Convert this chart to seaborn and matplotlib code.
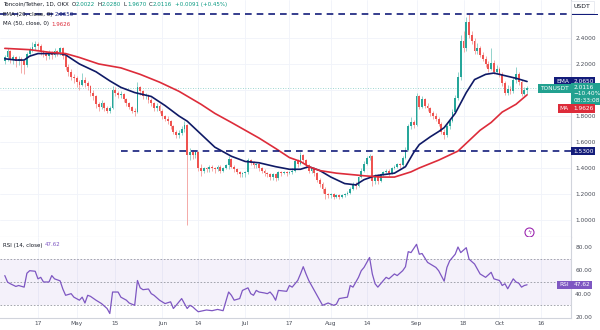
import numpy as np
import pandas as pd
import matplotlib
matplotlib.use("Agg")
import matplotlib.pyplot as plt
import seaborn as sns
from matplotlib.transforms import blended_transform_factory
from matplotlib.patches import Rectangle

# ---------------- data ----------------
start_date = "2023-04-05"
closes = [
    2.25, 2.30, 2.24, 2.25, 2.22, 2.24, 2.22, 2.19, 2.28, 2.31,
    2.33, 2.35, 2.34, 2.29, 2.28, 2.26, 2.29, 2.27, 2.30, 2.29,
    2.32, 2.26, 2.18, 2.14, 2.10, 2.09, 2.06, 2.04, 2.08, 2.05,
    2.03, 1.98, 1.95, 1.89, 1.87, 1.90, 1.86, 1.84, 1.86, 2.00,
    1.98, 1.96, 1.97, 1.93, 1.90, 1.87, 1.84, 1.83, 2.02, 1.99,
    1.95, 1.96, 1.92, 1.90, 1.86, 1.88, 1.84, 1.80, 1.78, 1.76,
    1.72, 1.68, 1.65, 1.67, 1.70, 1.73, 1.50, 1.52, 1.50, 1.52,
    1.40, 1.38, 1.40, 1.39, 1.41, 1.40, 1.39, 1.41, 1.38, 1.40,
    1.42, 1.47, 1.41, 1.39, 1.37, 1.35, 1.36, 1.37, 1.46, 1.44,
    1.42, 1.43, 1.40, 1.38, 1.36, 1.35, 1.33, 1.35, 1.32, 1.37,
    1.36, 1.37, 1.36, 1.37, 1.38, 1.45, 1.43, 1.50, 1.46, 1.42,
    1.38, 1.40, 1.36, 1.31, 1.28, 1.24, 1.20, 1.19, 1.20, 1.18,
    1.19, 1.18, 1.19, 1.20, 1.21, 1.24, 1.28, 1.26, 1.33, 1.38,
    1.43, 1.48, 1.49, 1.30, 1.33, 1.30, 1.35, 1.37, 1.38, 1.36,
    1.40, 1.41, 1.43, 1.42, 1.48, 1.54, 1.72, 1.75, 1.73, 1.95,
    1.87, 1.93, 1.88, 1.86, 1.82, 1.80, 1.78, 1.74, 1.68, 1.65,
    1.72, 1.76, 1.83, 1.94, 2.10, 2.38, 2.32, 2.52, 2.42, 2.38,
    2.30, 2.32, 2.27, 2.24, 2.20, 2.16, 2.21, 2.14, 2.16, 2.12,
    2.05, 1.98, 2.01, 1.99, 2.08, 2.12, 2.06, 1.97, 2.0022, 2.0116,
]
opens = [
    2.22, 2.25, 2.30, 2.24, 2.25, 2.22, 2.24, 2.22, 2.19, 2.28,
    2.31, 2.33, 2.35, 2.34, 2.29, 2.28, 2.26, 2.29, 2.27, 2.30,
    2.29, 2.32, 2.26, 2.18, 2.14, 2.10, 2.09, 2.06, 2.04, 2.08,
    2.05, 2.03, 1.98, 1.95, 1.89, 1.87, 1.90, 1.86, 1.84, 1.86,
    2.00, 1.98, 1.96, 1.97, 1.93, 1.90, 1.87, 1.84, 1.83, 2.02,
    1.99, 1.95, 1.96, 1.92, 1.90, 1.86, 1.88, 1.84, 1.80, 1.78,
    1.76, 1.72, 1.68, 1.65, 1.67, 1.70, 1.73, 1.50, 1.52, 1.50,
    1.52, 1.40, 1.38, 1.40, 1.39, 1.41, 1.40, 1.39, 1.41, 1.38,
    1.40, 1.42, 1.47, 1.41, 1.39, 1.37, 1.35, 1.36, 1.37, 1.46,
    1.44, 1.42, 1.43, 1.40, 1.38, 1.36, 1.35, 1.33, 1.35, 1.32,
    1.37, 1.36, 1.37, 1.36, 1.37, 1.38, 1.45, 1.43, 1.50, 1.46,
    1.42, 1.38, 1.40, 1.36, 1.31, 1.28, 1.24, 1.20, 1.19, 1.20,
    1.18, 1.19, 1.18, 1.19, 1.20, 1.21, 1.24, 1.28, 1.26, 1.33,
    1.38, 1.43, 1.48, 1.49, 1.30, 1.33, 1.30, 1.35, 1.37, 1.38,
    1.36, 1.40, 1.41, 1.43, 1.42, 1.48, 1.54, 1.72, 1.75, 1.73,
    1.95, 1.87, 1.93, 1.88, 1.86, 1.82, 1.80, 1.78, 1.74, 1.68,
    1.65, 1.72, 1.76, 1.83, 1.94, 2.10, 2.38, 2.32, 2.52, 2.42,
    2.38, 2.30, 2.32, 2.27, 2.24, 2.20, 2.16, 2.21, 2.14, 2.16,
    2.12, 2.05, 1.98, 2.01, 1.99, 2.08, 2.12, 2.06, 1.97, 2.0022,
]
highs = [
    2.27, 2.32, 2.31, 2.27, 2.26, 2.26, 2.25, 2.23, 2.29, 2.33,
    2.37, 2.38, 2.37, 2.35, 2.31, 2.30, 2.31, 2.30, 2.32, 2.31,
    2.33, 2.33, 2.27, 2.20, 2.16, 2.12, 2.11, 2.08, 2.13, 2.10,
    2.07, 2.04, 2.00, 1.96, 1.91, 1.92, 1.91, 1.88, 1.88, 2.03,
    2.02, 1.99, 1.99, 1.98, 1.94, 1.91, 1.88, 1.86, 2.06, 2.03,
    2.00, 1.98, 1.97, 1.94, 1.91, 1.90, 1.89, 1.85, 1.81, 1.80,
    1.77, 1.73, 1.69, 1.69, 1.72, 1.76, 1.74, 1.55, 1.54, 1.53,
    1.53, 1.43, 1.41, 1.41, 1.42, 1.42, 1.41, 1.42, 1.42, 1.41,
    1.43, 1.49, 1.48, 1.42, 1.40, 1.38, 1.37, 1.38, 1.48, 1.47,
    1.45, 1.44, 1.44, 1.41, 1.39, 1.37, 1.36, 1.36, 1.36, 1.38,
    1.38, 1.38, 1.38, 1.38, 1.40, 1.47, 1.47, 1.52, 1.51, 1.47,
    1.43, 1.41, 1.41, 1.37, 1.32, 1.29, 1.25, 1.21, 1.21, 1.21,
    1.20, 1.20, 1.20, 1.21, 1.22, 1.25, 1.29, 1.29, 1.34, 1.40,
    1.45, 1.49, 1.51, 1.50, 1.35, 1.35, 1.36, 1.38, 1.39, 1.39,
    1.41, 1.42, 1.44, 1.44, 1.49, 1.56, 1.74, 1.79, 1.77, 1.98,
    1.96, 1.95, 1.94, 1.90, 1.87, 1.84, 1.82, 1.79, 1.75, 1.70,
    1.74, 1.78, 1.85, 1.96, 2.14, 2.42, 2.45, 2.56, 2.585, 2.45,
    2.40, 2.36, 2.34, 2.29, 2.26, 2.22, 2.32, 2.23, 2.19, 2.18,
    2.14, 2.07, 2.04, 2.03, 2.10, 2.18, 2.14, 2.08, 2.02, 2.028,
]
lows = [
    2.20, 2.22, 2.21, 2.20, 2.18, 2.19, 2.13, 2.12, 2.18, 2.26,
    2.29, 2.31, 2.31, 2.27, 2.25, 2.23, 2.24, 2.24, 2.25, 2.26,
    2.27, 2.24, 2.15, 2.11, 2.08, 2.05, 2.02, 2.00, 2.03, 2.02,
    2.00, 1.95, 1.92, 1.86, 1.84, 1.85, 1.84, 1.82, 1.82, 1.85,
    1.95, 1.94, 1.94, 1.91, 1.88, 1.85, 1.82, 1.80, 1.82, 1.96,
    1.93, 1.93, 1.90, 1.88, 1.84, 1.84, 1.82, 1.78, 1.76, 1.74,
    1.70, 1.66, 1.63, 1.63, 1.65, 1.68, 0.96, 1.46, 1.47, 1.48,
    1.38, 1.34, 1.36, 1.37, 1.37, 1.38, 1.36, 1.38, 1.36, 1.37,
    1.39, 1.39, 1.40, 1.37, 1.35, 1.33, 1.33, 1.33, 1.35, 1.42,
    1.40, 1.40, 1.38, 1.36, 1.34, 1.33, 1.31, 1.31, 1.30, 1.31,
    1.34, 1.35, 1.34, 1.35, 1.35, 1.37, 1.41, 1.42, 1.44, 1.40,
    1.36, 1.36, 1.34, 1.29, 1.25, 1.21, 1.16, 1.17, 1.17, 1.16,
    1.17, 1.16, 1.17, 1.18, 1.19, 1.20, 1.23, 1.24, 1.25, 1.32,
    1.37, 1.42, 1.46, 1.26, 1.28, 1.28, 1.29, 1.34, 1.36, 1.34,
    1.35, 1.39, 1.40, 1.40, 1.41, 1.47, 1.53, 1.70, 1.71, 1.72,
    1.85, 1.86, 1.86, 1.84, 1.80, 1.78, 1.76, 1.72, 1.66, 1.62,
    1.64, 1.70, 1.75, 1.82, 1.92, 2.08, 2.29, 2.30, 2.40, 2.35,
    2.28, 2.28, 2.25, 2.22, 2.18, 2.14, 2.15, 2.12, 2.13, 2.10,
    2.03, 1.96, 1.96, 1.97, 1.98, 2.05, 2.04, 1.95, 1.96, 1.967,
]

# EMA(20) and MA(50) (day index -> value)
ema_day = [0, 4, 7, 9, 12, 16, 20, 22, 27, 33, 38, 42, 47, 53, 58, 63, 66, 71, 76, 82,
           87, 92, 98, 103, 107, 110, 114, 118, 123, 127, 130, 134, 141, 145, 148, 150,
           154, 157, 159, 163, 167, 170, 174, 177, 181, 185, 189]
ema_val = [2.24, 2.23, 2.23, 2.26, 2.28, 2.28, 2.28, 2.27, 2.20, 2.14, 2.07, 2.02, 1.98,
           1.95, 1.88, 1.80, 1.76, 1.66, 1.56, 1.49, 1.45, 1.44, 1.41, 1.39, 1.39, 1.41,
           1.38, 1.33, 1.28, 1.27, 1.31, 1.34, 1.36, 1.41, 1.52, 1.58, 1.64, 1.68, 1.71,
           1.82, 1.98, 2.08, 2.12, 2.13, 2.11, 2.09, 2.065]
ma_day = [0, 9, 16, 22, 27, 34, 42, 49, 56, 63, 71, 76, 82, 87, 92, 98, 103, 107, 110,
          114, 120, 125, 130, 136, 141, 147, 150, 157, 164, 168, 172, 176, 180, 185, 189]
ma_val = [2.32, 2.31, 2.29, 2.28, 2.25, 2.20, 2.17, 2.12, 2.06, 1.99, 1.89, 1.82, 1.75,
          1.69, 1.63, 1.55, 1.48, 1.45, 1.41, 1.38, 1.36, 1.35, 1.34, 1.33, 1.33, 1.37,
          1.40, 1.46, 1.53, 1.61, 1.69, 1.75, 1.83, 1.89, 1.9626]

# RSI(14)
rsi_day = [0, 1, 2, 4, 5, 7, 8, 9, 11, 12, 13, 14, 16, 17, 18, 20, 21, 22, 24, 25, 27, 28,
           29, 30, 31, 33, 34, 35, 37, 38, 39, 41, 42, 44, 45, 47, 48, 49, 50, 52, 53, 54,
           56, 57, 58, 60, 61, 62, 64, 66, 67, 68, 69, 70, 71, 73, 75, 77, 79, 81, 82, 83,
           85, 86, 88, 89, 90, 91, 92, 94, 95, 96, 97, 98, 99, 101, 102, 103, 104, 106,
           107, 108, 109, 110, 112, 113, 115, 116, 117, 119, 120, 121, 123, 124, 125, 126,
           128, 129, 130, 132, 133, 134, 135, 137, 138, 139, 141, 142, 144, 145, 146, 147,
           149, 150, 151, 153, 154, 156, 157, 159, 160, 161, 163, 164, 165, 167, 168, 170,
           171, 172, 174, 176, 177, 179, 180, 181, 182, 184, 185, 186, 187, 188, 189]
rsi_val = [55.5, 49.9, 48.5, 46.2, 47.0, 45.6, 57.5, 59.7, 59.2, 52.7, 54.0, 50.0, 50.0,
           55.5, 52.7, 51.0, 44.0, 38.6, 40.0, 37.0, 34.4, 37.0, 32.0, 38.6, 37.7, 34.4,
           33.0, 31.5, 27.3, 23.0, 41.4, 41.4, 37.0, 34.4, 32.0, 30.0, 51.3, 45.0, 43.4,
           44.0, 40.0, 38.6, 34.4, 33.0, 31.5, 33.0, 27.3, 30.0, 35.8, 27.3, 30.0, 28.7,
           26.5, 24.5, 25.0, 26.0, 25.4, 26.5, 25.4, 41.4, 38.6, 34.4, 35.8, 42.8, 45.0,
           40.0, 38.6, 42.8, 41.4, 40.6, 40.0, 41.4, 38.6, 34.4, 42.8, 42.3, 42.0, 47.0,
           45.6, 51.3, 56.9, 63.1, 56.9, 51.3, 42.8, 38.6, 30.0, 31.0, 32.0, 30.0, 31.0,
           35.8, 36.6, 37.0, 47.0, 45.6, 54.0, 59.7, 62.5, 71.0, 56.9, 48.5, 45.6, 51.3,
           54.0, 52.7, 56.9, 55.5, 59.7, 63.1, 76.0, 75.2, 82.3, 73.8, 74.4, 66.8, 65.4,
           62.5, 59.7, 50.7, 62.5, 68.2, 73.8, 80.0, 75.2, 79.4, 69.6, 65.4, 61.1, 56.9,
           54.0, 58.3, 52.7, 51.3, 47.0, 48.5, 44.2, 52.7, 50.0, 49.0, 45.6, 47.0, 47.62]

tick_dates = ["2023-04-17", "2023-05-01", "2023-05-15", "2023-06-01", "2023-06-14",
              "2023-07-01", "2023-07-17", "2023-08-01", "2023-08-14", "2023-09-01",
              "2023-09-18", "2023-10-01", "2023-10-16"]
tick_labels = ["17", "May", "15", "Jun", "14", "Jul", "17", "Aug", "14", "Sep", "18", "Oct", "16"]
price_ticks = [1.0, 1.2, 1.4, 1.6, 1.8, 2.0, 2.2, 2.4]
rsi_ticks = [20, 40, 60, 80]
resist_top = 2.585
support = 1.53
support_from = "2023-05-17"
ema_last, ma_last, rsi_last = 2.0650, 1.9626, 47.62
last_close = closes[-1]

# ---------------- style ----------------
sns.set_style("white")
plt.rcParams["font.family"] = ["DejaVu Sans"]
UP, DN = "#26A69A", "#EF5350"
UPW, DNW = "#93D3CC", "#F4AAA8"
NAVY = "#131C7A"
EMA_C = "#0F1A66"
MA_C = "#DD2C3A"
RSI_C = "#7E57C2"
GRID = "#F0F3FA"
TXT = "#131722"
AXT = "#4A4E59"
SPINE = "#D1D4DC"

W, H = 600, 330
fig = plt.figure(figsize=(W / 100, H / 100), dpi=100)
ax = fig.add_axes([0, 1 - 237 / H, 571 / W, 237 / H])
ax2 = fig.add_axes([0, 1 - 318 / H, 571 / W, 81 / H])

dates = pd.date_range(start_date, periods=len(closes), freq="D")
t0 = dates[0]
idx = np.array([(d - t0).days for d in dates])
o = np.array(opens); c = np.array(closes); hi = np.array(highs); lo = np.array(lows)
tick_pos = [(pd.Timestamp(d) - t0).days for d in tick_dates]

up = c >= o
ax.vlines(idx, lo, hi, colors=np.where(up, UPW, DNW), lw=0.7, zorder=2)
body = np.maximum(np.abs(c - o), 0.004)
ax.bar(idx, body, bottom=np.minimum(o, c), width=0.66,
       color=np.where(up, UP, DN), linewidth=0, zorder=3)

sns.lineplot(x=ema_day, y=ema_val, ax=ax, color=EMA_C, lw=1.2, zorder=4)
sns.lineplot(x=ma_day, y=ma_val, ax=ax, color=MA_C, lw=1.2, zorder=4)

ax.axhline(resist_top, color=NAVY, lw=1.2, ls=(0, (4, 3)), zorder=5)
sup_x = (pd.Timestamp(support_from) - t0).days
ax.hlines(support, sup_x, 260, color=NAVY, lw=1.2, ls=(0, (4, 3)), zorder=5)
ax.axhline(last_close, color=UP, lw=0.6, ls=(0, (1, 2)), alpha=0.6, zorder=1)

xlim = (-1.74, 204.9)
ax.set_xlim(*xlim)
ax.set_ylim(0.869, 2.692)
ax.set_yticks(price_ticks)
ax.set_yticklabels(["" if abs(v - 2.0) < 1e-9 else f"{v:.4f}" for v in price_ticks])
ax.yaxis.tick_right()
ax.set_xticks(tick_pos)
ax.set_xticklabels([])
ax.tick_params(axis="both", length=0, labelsize=4.2, colors=AXT, pad=3)
ax.grid(True, color=GRID, lw=0.6)
ax.set_xlabel(""); ax.set_ylabel("")
for s in ["top", "left"]:
    ax.spines[s].set_visible(False)
ax.spines["right"].set_color(SPINE); ax.spines["right"].set_linewidth(0.8)
ax.spines["bottom"].set_color(SPINE); ax.spines["bottom"].set_linewidth(0.8)

# RSI panel
ax2.axhspan(30, 70, color=RSI_C, alpha=0.08, lw=0)
for lvl in (70, 50, 30):
    ax2.axhline(lvl, color="#9598A1", lw=0.6, ls=(0, (2, 2)))
sns.lineplot(x=rsi_day, y=rsi_val, ax=ax2, color=RSI_C, lw=0.9, zorder=4)
ax2.set_xlim(*xlim)
ax2.set_ylim(19.14, 88.57)
ax2.set_yticks(rsi_ticks)
ax2.set_yticklabels([f"{v:.2f}" for v in rsi_ticks])
ax2.yaxis.tick_right()
ax2.set_xticks(tick_pos)
ax2.set_xticklabels(tick_labels)
ax2.tick_params(axis="both", length=0, labelsize=4.2, colors=AXT, pad=3)
ax2.tick_params(axis="x", pad=2.5)
ax2.grid(True, axis="x", color=GRID, lw=0.6)
ax2.set_xlabel(""); ax2.set_ylabel("")
for s in ["top", "left"]:
    ax2.spines[s].set_visible(False)
ax2.spines["right"].set_color(SPINE); ax2.spines["right"].set_linewidth(0.8)
ax2.spines["bottom"].set_color(SPINE); ax2.spines["bottom"].set_linewidth(0.8)

# ---------------- tags on the price scale ----------------
def tag(axis, yv, text, fc, dy=0, side="right", fs=4.2, va="center", tc="white"):
    tr = blended_transform_factory(axis.transAxes, axis.transData)
    if side == "right":
        xo, ha = 1.6, "left"
    else:
        xo, ha = -1.6, "right"
    axis.annotate(text, xy=(1, yv), xycoords=tr, xytext=(xo, dy), textcoords="offset points",
                  fontsize=fs, color=tc, ha=ha, va=va, annotation_clip=False, zorder=10,
                  linespacing=1.35,
                  bbox=dict(boxstyle="square,pad=0.3", fc=fc, ec="none"))

tag(ax, ema_last, f"{ema_last:.4f}", NAVY)
tag(ax, ema_last, "EMA", NAVY, side="left")
tag(ax, last_close, f"{last_close:.4f}\n\u221210.40%\n08:33:08", "#22A190", dy=2.5, va="top")
tag(ax, last_close, "TONUSDT", "#22A190", side="left")
tag(ax, ma_last, f"{ma_last:.4f}", MA_C, dy=-10)
tag(ax, ma_last, "MA", MA_C, side="left", dy=-10)
tag(ax, support, f"{support:.4f}", NAVY)
tag(ax2, rsi_last, f"{rsi_last:.2f}", RSI_C)
tag(ax2, rsi_last, "RSI", RSI_C, side="left")
# resistance label mostly hidden behind the currency box: only a thin strip shows
tr_r = blended_transform_factory(fig.transFigure, ax.transData)
fig.add_artist(Rectangle((572 / W, resist_top), 26 / W, -0.012, transform=tr_r,
                         fc=NAVY, ec="none", zorder=9))
fig.text(574 / W, 1 - 7 / H, "USDT", fontsize=4.4, color=TXT, va="center", ha="left",
         zorder=20, bbox=dict(boxstyle="square,pad=0.5", fc="white", ec="#E0E3EB", lw=0.5))

# lightning event icon
ax.plot([idx[-1] + 0.8], [0.021], marker="o", ms=6.5, mfc="white", mec="#9C27B0", mew=0.8,
        transform=blended_transform_factory(ax.transData, ax.transAxes), clip_on=False, zorder=6)
ax.text(idx[-1] + 0.8, 0.021, "\u03df", fontsize=4.5, color="#9C27B0", ha="center", va="center",
        transform=blended_transform_factory(ax.transData, ax.transAxes), zorder=7)

# ---------------- legend text rows ----------------
renderer = fig.canvas.get_renderer()

def row(x_px, y_px, parts, fs=4.0):
    x = x_px
    for s, col, gap in parts:
        t = fig.text(x / W, 1 - y_px / H, s, fontsize=fs, color=col, va="center", ha="left", zorder=20)
        x += t.get_window_extent(renderer=renderer).width + gap

VAL = "#089981"
row(3, 4.5, [("Toncoin/Tether, 1D, OKX", TXT, 2.5), ("O", TXT, 0.3), (f"{opens[-1]:.4f}", VAL, 2.5),
             ("H", TXT, 0.3), (f"{highs[-1]:.4f}", VAL, 2.5), ("L", TXT, 0.3), (f"{lows[-1]:.4f}", VAL, 2.5),
             ("C", TXT, 0.3), (f"{closes[-1]:.4f}", VAL, 2.5), ("+0.0091 (+0.45%)", VAL, 0)])
row(3, 14.5, [("EMA (20, close, 0)", TXT, 2.5), (f"{ema_last:.4f}", NAVY, 0)])
row(3, 24, [("MA (50, close, 0)", TXT, 2.5), (f"{ma_last:.4f}", MA_C, 0)])
row(3, 245, [("RSI (14, close)", TXT, 2.5), (f"{rsi_last:.2f}", RSI_C, 0)])

fig.savefig("out.png", dpi=100, facecolor="white")
